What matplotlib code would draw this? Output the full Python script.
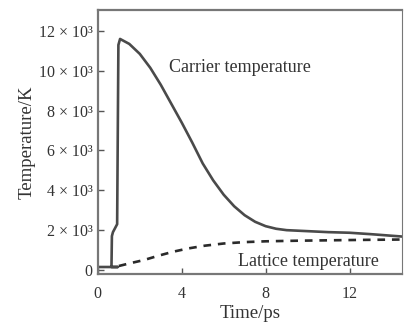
import matplotlib
matplotlib.use("Agg")
import matplotlib.pyplot as plt

# Carrier and lattice temperature (units of 10^3 K) versus time (ps)
carrier_t = [0.0, 0.95, 0.65, 0.67, 0.72, 0.92, 0.98, 1.06, 1.5, 2.0, 2.5, 3.0,
             3.5, 4.0, 4.5, 5.0, 5.5, 6.0, 6.5, 7.0, 7.5, 8.0, 8.5, 9.0,
             10.0, 11.0, 12.0, 13.0, 14.0, 14.5]
carrier_T = [0.15, 0.15, 0.15, 1.7, 1.9, 2.3, 11.3, 11.6, 11.35, 10.85, 10.15, 9.3,
             8.35, 7.4, 6.4, 5.35, 4.5, 3.78, 3.2, 2.75, 2.42, 2.2, 2.07, 2.0,
             1.95, 1.9, 1.87, 1.8, 1.72, 1.68]

lattice_t = [1.0, 1.5, 2.2, 2.9, 3.6, 4.3, 5.1, 6.0, 7.0, 8.0, 9.5, 11.0, 12.5, 14.5]
lattice_T = [0.2, 0.33, 0.5, 0.72, 0.92, 1.08, 1.22, 1.33, 1.4, 1.44, 1.47, 1.49, 1.51, 1.53]

xticks = [0, 4, 8, 12]
yticks = [0, 2, 4, 6, 8, 10, 12]
ytick_labels = ["0"] + [f"{v} \u00d7 10\u00b3" for v in yticks[1:]]

plt.rcParams["font.family"] = ["Liberation Serif", "DejaVu Serif"]

fig = plt.figure(figsize=(4.06, 3.25), dpi=100)
ax = fig.add_axes([0.241, 0.157, 0.749, 0.812])

line_col = "#4a4a4a"
ax.plot(carrier_t, carrier_T, color=line_col, lw=1.9, solid_joinstyle="round")
ax.plot(lattice_t, lattice_T, color="#2a2a2a", lw=1.9, dashes=(2.9, 2.6))

ax.set_xlim(0, 14.5)
ax.set_ylim(-0.2, 13.05)
ax.set_xticks(xticks)
ax.set_xticklabels([str(v) for v in xticks])
ax.set_yticks(yticks)
ax.set_yticklabels(ytick_labels)
ax.tick_params(direction="in", length=4, width=1, colors="#555555",
               labelcolor="#333333", labelsize=11.5, pad=4)
ax.tick_params(axis="x", pad=9)

for side, sp in ax.spines.items():
    sp.set_color("#777777")
    sp.set_linewidth(1.6 if side in ("left", "bottom", "top") else 0.8)

ax.text(3.4, 10.15, "Carrier temperature", fontsize=13, color="#333333",
        va="center", ha="left")
ax.text(6.7, 0.45, "Lattice temperature", fontsize=13, color="#333333",
        va="center", ha="left")

ax.set_xlabel("Time/ps", fontsize=13.5, color="#333333", labelpad=2)
ax.set_ylabel("Temperature/K", fontsize=13.5, color="#333333", labelpad=2)

fig.savefig("out.png", dpi=100, facecolor="white")
